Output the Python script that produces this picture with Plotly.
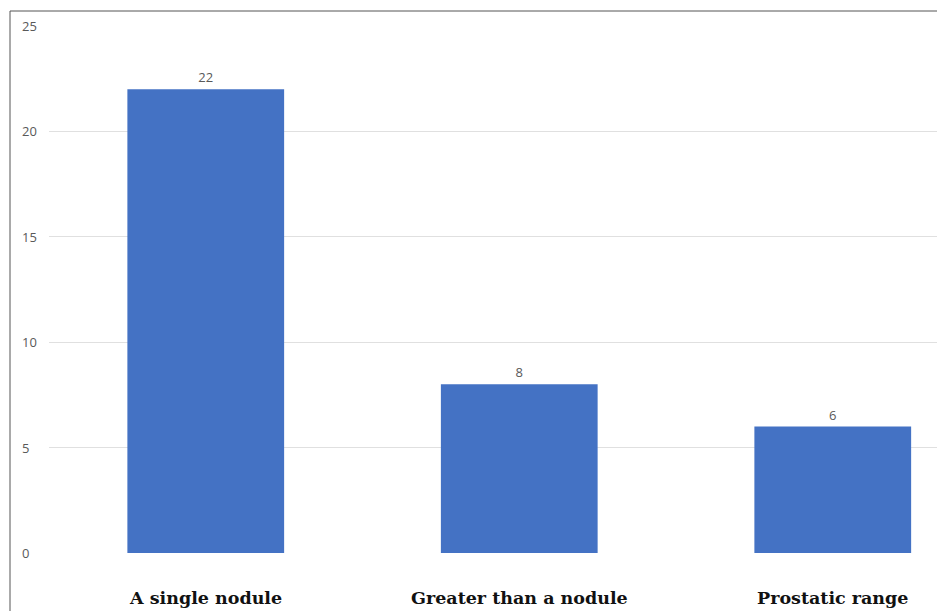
import plotly.graph_objects as go

# Chart data
categories = ["A single nodule", "Greater than a nodule", "Prostatic range"]
counts = [22, 8, 6]
y_ticks = [0, 5, 10, 15, 20, 25]

BAR_COLOR = "#4472C4"
GRID_COLOR = "#E0E0E0"
LABEL_GRAY = "#595959"

W, H = 937, 611
M_L, M_R, M_T, M_B = 49, 0, 26, 58
plot_w = W - M_L - M_R

fig = go.Figure(
    go.Bar(
        x=list(range(len(categories))),
        y=counts,
        width=0.5,
        marker=dict(color=BAR_COLOR, line=dict(width=0)),
        text=[str(v) for v in counts],
        textposition="outside",
        textfont=dict(family="Open Sans, Noto Sans, sans-serif", size=13, color=LABEL_GRAY),
        cliponaxis=False,
    )
)

# Category labels below the plot, bold serif
for i, name in enumerate(categories):
    fig.add_annotation(
        x=i, y=0, xref="x", yref="y",
        text=f"<b>{name}</b>", showarrow=False,
        yanchor="top", yshift=-33,
        font=dict(family="DejaVu Serif, Liberation Serif, serif", size=17.5, color="#111111"),
    )

# Value axis labels, left aligned at the chart edge
for v in y_ticks:
    fig.add_annotation(
        x=-29 / plot_w, y=v, xref="paper", yref="y",
        text=str(v), showarrow=False, xanchor="left", yanchor="middle",
        font=dict(family="Open Sans, Noto Sans, sans-serif", size=13, color=LABEL_GRAY),
    )

# Baseline and outer frame
fig.add_shape(type="line", xref="paper", yref="y",
              x0=-39 / plot_w, x1=1, y0=-0.19, y1=-0.19,
              line=dict(color="#D9D9D9", width=1), layer="below")
fig.add_shape(type="line", xref="paper", yref="paper",
              x0=-39 / plot_w, x1=-39 / plot_w, y0=-2, y1=1 + 15 / (H - M_T - M_B),
              line=dict(color="#555555", width=1))
fig.add_shape(type="line", xref="paper", yref="paper",
              x0=-39 / plot_w, x1=1.02, y0=1 + 15 / (H - M_T - M_B), y1=1 + 15 / (H - M_T - M_B),
              line=dict(color="#555555", width=1))

fig.update_layout(
    width=W, height=H,
    margin=dict(l=M_L, r=M_R, t=M_T, b=M_B, pad=0),
    paper_bgcolor="white", plot_bgcolor="white",
    showlegend=False,
    bargap=0.5,
    xaxis=dict(range=[-0.5, 2.3325], showticklabels=False, showgrid=False,
               zeroline=False, showline=False, fixedrange=True),
    yaxis=dict(range=[0, 25], tickvals=y_ticks, showticklabels=False,
               showgrid=True, gridcolor=GRID_COLOR, gridwidth=1,
               zeroline=False, showline=False),
)

fig.write_html("out.html")
